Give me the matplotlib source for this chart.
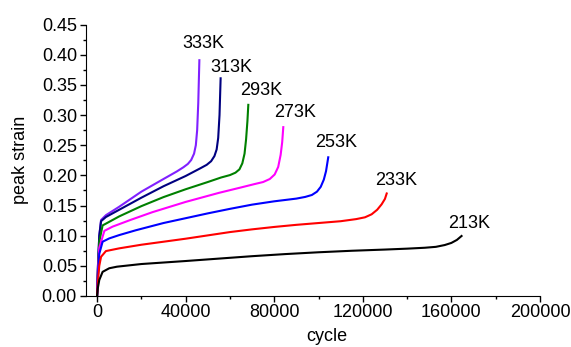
import matplotlib
matplotlib.use("Agg")
import matplotlib.pyplot as plt
from matplotlib.ticker import MultipleLocator

plt.rcParams['font.family'] = ['Liberation Sans', 'DejaVu Sans']

# peak strain vs cycle, one curve per temperature
x_333 = [0, 400, 1000, 1800, 4000, 10000, 20000, 30000, 36000, 39000, 41000, 42500, 43800, 44600, 45200, 45700, 46200]
y_333 = [0, 0.05, 0.10, 0.126, 0.134, 0.148, 0.173, 0.194, 0.2065, 0.2135, 0.219, 0.2255, 0.236, 0.25, 0.275, 0.32, 0.391]

x_313 = [0, 400, 1000, 1800, 4000, 10000, 20000, 30000, 40000, 46500, 49500, 51500, 53000, 54000, 54700, 55300, 55800]
y_313 = [0, 0.05, 0.10, 0.124, 0.131, 0.143, 0.163, 0.182, 0.199, 0.2115, 0.2175, 0.2235, 0.232, 0.243, 0.262, 0.30, 0.361]

x_293 = [0, 400, 1000, 2500, 5000, 10000, 20000, 30000, 40000, 50000, 56000, 60000, 62500, 64300, 65600, 66600,
         67300, 67900, 68300]
y_293 = [0, 0.045, 0.09, 0.117, 0.122, 0.132, 0.149, 0.164, 0.177, 0.189, 0.1965, 0.2005, 0.2045, 0.210, 0.220,
         0.236, 0.26, 0.29, 0.317]

x_273 = [0, 400, 1000, 3300, 7000, 15000, 25000, 40000, 55000, 65000, 71000, 75000, 78000, 80200, 81800, 82900,
         83600, 84100]
y_273 = [0, 0.04, 0.08, 0.108, 0.115, 0.126, 0.139, 0.156, 0.171, 0.180, 0.1855, 0.189, 0.194, 0.2015, 0.214,
         0.234, 0.255, 0.28]

x_253 = [0, 400, 1000, 2500, 5500, 10000, 17500, 30000, 40000, 50000, 60000, 70000, 80000, 90000, 94000, 97000,
         99300, 101000, 102400, 103400, 104400]
y_253 = [0, 0.035, 0.07, 0.09, 0.0955, 0.101, 0.109, 0.121, 0.129, 0.137, 0.1445, 0.1515, 0.157, 0.1615, 0.1643,
         0.1675, 0.173, 0.181, 0.193, 0.207, 0.23]

x_233 = [0, 400, 1000, 1800, 4000, 10000, 20000, 30000, 40000, 50000, 60000, 70000, 80000, 90000, 100000, 110000,
         117000, 121000, 124000, 126500, 128500, 130000, 130800]
y_233 = [0, 0.025, 0.05, 0.065, 0.0745, 0.079, 0.085, 0.090, 0.095, 0.1005, 0.106, 0.1105, 0.1145, 0.118, 0.121,
         0.124, 0.1275, 0.1305, 0.1355, 0.143, 0.152, 0.161, 0.170]

x_213 = [0, 300, 1000, 2500, 5500, 9000, 20000, 30000, 40000, 55000, 70000, 85000, 100000, 115000, 130000, 140000,
         148000, 153000, 157000, 160000, 162500, 164600]
y_213 = [0, 0.012, 0.0265, 0.040, 0.046, 0.0486, 0.053, 0.0555, 0.058, 0.062, 0.066, 0.0695, 0.0725, 0.075, 0.077,
         0.0785, 0.080, 0.0815, 0.0845, 0.088, 0.093, 0.0995]

labels = ['333K', '313K', '293K', '273K', '253K', '233K', '213K']
colors = ['#8020ff', '#000080', '#008000', '#ff00ff', '#0000ff', '#ff0000', '#000000']
label_x = [47900, 60800, 74000, 89400, 107900, 135000, 168000]
label_y = [0.418, 0.379, 0.341, 0.305, 0.255, 0.191, 0.121]

curves = [(x_333, y_333), (x_313, y_313), (x_293, y_293), (x_273, y_273),
          (x_253, y_253), (x_233, y_233), (x_213, y_213)]

fig = plt.figure(figsize=(5.71, 3.47), dpi=100)
ax = fig.add_axes([0.1506, 0.147, 0.795, 0.782])

for (xs, ys), c in zip(curves, colors):
    ax.plot(xs, ys, color=c, lw=1.5)

for lab, lx, ly in zip(labels, label_x, label_y):
    ax.text(lx, ly, lab, fontsize=13, ha='center', va='center')

ax.set_xlim(-5000, 200000)
ax.set_ylim(0, 0.45)
ax.xaxis.set_major_locator(MultipleLocator(40000))
ax.xaxis.set_minor_locator(MultipleLocator(20000))
ax.yaxis.set_major_locator(MultipleLocator(0.05))
ax.yaxis.set_minor_locator(MultipleLocator(0.025))
ax.yaxis.set_major_formatter(plt.FuncFormatter(lambda v, p: f"{v:.2f}"))

ax.spines['top'].set_visible(False)
ax.spines['right'].set_visible(False)
ax.tick_params(which='major', direction='out', length=4.5, width=1, labelsize=13, pad=2)
ax.tick_params(which='minor', direction='out', length=2.5, width=1)
ax.tick_params(axis='x', pad=1)

# kept just inside the bottom edge
ax.set_xlabel('cycle', fontsize=13, x=0.53, labelpad=5)
ax.set_ylabel('peak strain', fontsize=13, labelpad=9)

fig.savefig('out.png', dpi=100)
